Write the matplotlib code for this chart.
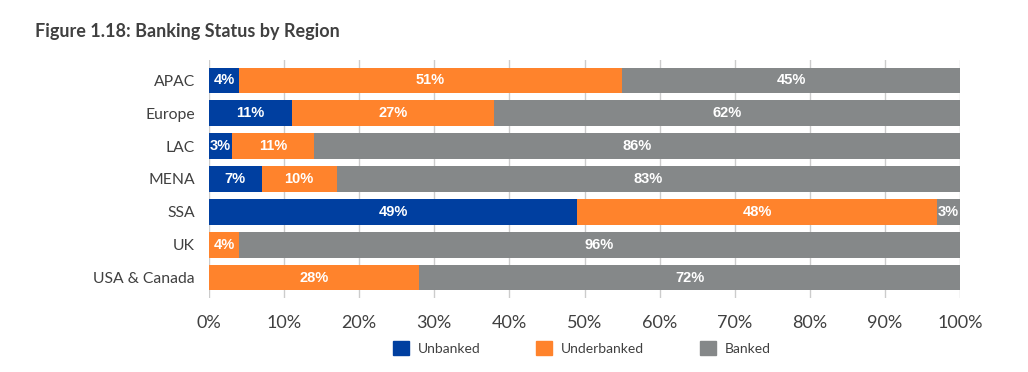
import numpy as np
import matplotlib.pyplot as plt
from matplotlib.patches import Patch

regions = ["APAC", "Europe", "LAC", "MENA", "SSA", "UK", "USA & Canada"]
unbanked = [4, 11, 3, 7, 49, 0, 0]
underbanked = [51, 27, 11, 10, 48, 4, 28]
banked = [45, 62, 86, 83, 3, 96, 72]
series_names = ["Unbanked", "Underbanked", "Banked"]
colors = ["#003FA0", "#FF832C", "#858889"]

fig = plt.figure(figsize=(10.28, 3.72), dpi=100)
ax = fig.add_axes([209 / 1028, 1 - 298 / 372, 751 / 1028, 238 / 372])

y = np.arange(len(regions))
left = np.zeros(len(regions))
for vals, name, col in zip([unbanked, underbanked, banked], series_names, colors):
    vals = np.array(vals, dtype=float)
    ax.barh(y, vals, left=left, height=0.78, color=col, zorder=2)
    for yi, l, v in zip(y, left, vals):
        if v > 0:
            ax.text(l + v / 2, yi, f"{int(v)}%", ha="center", va="center",
                    color="white", fontweight="bold", fontsize=10.5,
                    family="Liberation Sans", zorder=3)
    left += vals

ax.set_xlim(0, 100)
ax.set_ylim(6.62, -0.62)
ax.set_yticks(y)
ax.set_yticklabels(regions, family="Lato", fontsize=11.3, color="#404040")
ax.set_xticks(np.arange(0, 101, 10))
ax.set_xticklabels([f"{t}%" for t in range(0, 101, 10)], family="Lato",
                   fontsize=13, color="#404040")
ax.tick_params(length=0, axis="both")
ax.tick_params(axis="x", pad=12)
ax.tick_params(axis="y", pad=10)
ax.grid(axis="x", color="#cccccc", linewidth=1, zorder=0)
for s in ax.spines.values():
    s.set_visible(False)

handles = [Patch(color=c) for c in colors]
fig.legend(handles, series_names, loc="center", bbox_to_anchor=(582 / 1028, 1 - 348 / 372),
           ncol=3, frameon=False, handlelength=1.15, handleheight=1.15,
           columnspacing=4.0, handletextpad=0.65,
           prop={"family": "Lato", "size": 10}, labelcolor="#404040")

fig.text(35 / 1028, 1 - 32 / 372, "Figure 1.18: Banking Status by Region",
         family="Lato", fontweight="bold", fontsize=13, color="#404040",
         va="center", ha="left")

fig.savefig("out.png", dpi=100)
